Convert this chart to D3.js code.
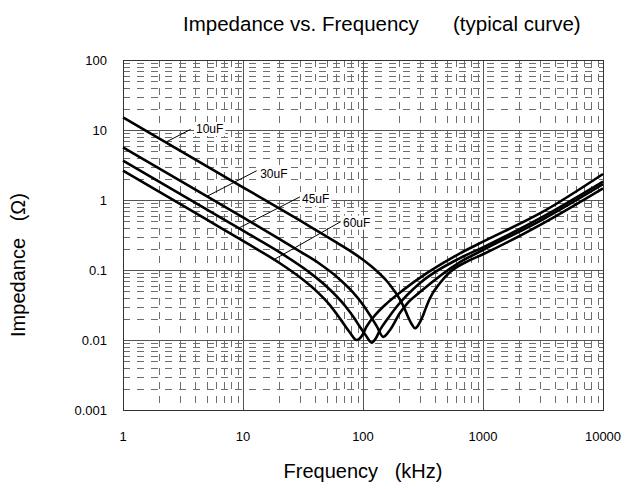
<!DOCTYPE html>
<html>
<head>
<meta charset="utf-8">
<script src="https://cdn.jsdelivr.net/npm/d3@7"></script>
<style>
  html, body { margin: 0; padding: 0; background: #fff; }
  svg { display: block; font-family: "Liberation Sans", Arial, sans-serif; }
</style>
</head>
<body>
<svg id="chart" width="627" height="489"></svg>
<script>
// axis ticks
const freqTicks = [1, 10, 100, 1000, 10000];
const freqTickLabels = ["1", "10", "100", "1000", "10000"];
const impTicks = [0.001, 0.01, 0.1, 1, 10, 100];
const impTickLabels = ["0.001", "0.01", "0.1", "1", "10", "100"];

// curves (kHz, ohm)
const seriesNames = ["10uF", "30uF", "45uF", "60uF"];
const freq10uF = [1, 10, 30, 60, 100, 130, 158.5, 180, 203, 222, 237, 255, 271, 290, 310, 335, 362, 438, 531, 721, 1000, 3162, 10000];
const imp10uF = [15.2, 1.52, 0.506, 0.248, 0.14, 0.097, 0.069, 0.052, 0.038, 0.028, 0.0215, 0.0168, 0.0147, 0.0165, 0.0206, 0.029, 0.0398, 0.0652, 0.0937, 0.130, 0.168, 0.465, 1.47];
const freq30uF = [1, 10, 30, 43.8, 60, 82.5, 100, 114.4, 130, 147.5, 167.9, 203, 240, 298.5, 643, 1000, 3162, 10000];
const imp30uF = [5.66, 0.566, 0.183, 0.122, 0.081, 0.0479, 0.032, 0.0226, 0.0158, 0.0111, 0.0139, 0.0243, 0.035, 0.0485, 0.130, 0.193, 0.53, 1.68];
const freq45uF = [1, 10, 20.3, 35, 50, 70.8, 85, 94.4, 105, 118.2, 128, 138.6, 160, 190.8, 298.5, 643, 1000, 3162, 10000];
const imp45uF = [3.64, 0.364, 0.178, 0.095, 0.0577, 0.0309, 0.0203, 0.0153, 0.0118, 0.00915, 0.0106, 0.0139, 0.02, 0.0299, 0.0652, 0.148, 0.211, 0.577, 1.83];
const freq60uF = [1, 5, 11.4, 20, 30, 42, 53, 65, 78, 88.6, 98, 107, 130, 158, 217, 340, 643, 1000, 3162, 10000];
const imp60uF = [2.62, 0.524, 0.228, 0.127, 0.078, 0.0479, 0.0315, 0.0197, 0.0127, 0.0100, 0.0115, 0.0155, 0.024, 0.0334, 0.052, 0.090, 0.173, 0.254, 0.68, 2.35];

// label anchors and leader ends (kHz, ohm)
const labelFreq = [4.06, 13.9, 31, 68.1];
const labelImp = [9.06, 2.06, 0.906, 0.416];
const leaderFromFreq = [3.66, 13.0, 29.9, 65.2];
const leaderFromImp = [10.2, 2.62, 1.11, 0.49];
const leaderToFreq = [2.31, 4.92, 9.14, 17.9];
const leaderToImp = [6.8, 1.11, 0.394, 0.139];

(function drawImpedanceChart() {
  const svg = d3.select("#chart");
  const width = 627, height = 489;

  const margin = { top: 60, right: 24, bottom: 79, left: 123 };
  const x = d3.scaleLog()
    .domain([1, 10000])
    .range([margin.left, width - margin.right]);
  const y = d3.scaleLog()
    .domain([0.001, 100])
    .range([height - margin.bottom, margin.top]);

  const [x0, x1] = x.range();
  const [y0, y1] = y.range();

  const grid = svg.append("g").attr("class", "grid");

  // minor grid, dashed
  const minorF = [];
  freqTicks.slice(0, -1).forEach(d => {
    for (let k = 2; k <= 9; k++) minorF.push(d * k);
  });
  const minorZ = [];
  impTicks.slice(0, -1).forEach(d => {
    for (let k = 2; k <= 9; k++) minorZ.push(d * k);
  });

  grid.selectAll(".minor-v")
    .data(minorF)
    .enter()
    .append("line")
    .attr("x1", d => Math.round(x(d)) + 0.5)
    .attr("x2", d => Math.round(x(d)) + 0.5)
    .attr("y1", y1)
    .attr("y2", y0)
    .attr("stroke", "#6e6e6e")
    .attr("stroke-width", 1)
    .attr("stroke-dasharray", "7,7");

  grid.selectAll(".minor-h")
    .data(minorZ)
    .enter()
    .append("line")
    .attr("x1", x0)
    .attr("x2", x1)
    .attr("y1", d => Math.round(y(d)) + 0.5)
    .attr("y2", d => Math.round(y(d)) + 0.5)
    .attr("stroke", "#6e6e6e")
    .attr("stroke-width", 1)
    .attr("stroke-dasharray", "7,7");

  // major grid
  grid.selectAll(".major-v")
    .data(freqTicks.slice(1, -1))
    .enter()
    .append("line")
    .attr("x1", d => Math.round(x(d)) + 0.5)
    .attr("x2", d => Math.round(x(d)) + 0.5)
    .attr("y1", y1)
    .attr("y2", y0)
    .attr("stroke", "#555")
    .attr("stroke-width", 1);

  grid.selectAll(".major-h")
    .data(impTicks.slice(1, -1))
    .enter()
    .append("line")
    .attr("x1", x0)
    .attr("x2", x1)
    .attr("y1", d => Math.round(y(d)) + 0.5)
    .attr("y2", d => Math.round(y(d)) + 0.5)
    .attr("stroke", "#555")
    .attr("stroke-width", 1);

  svg.append("rect")
    .attr("x", x0 + 0.5)
    .attr("y", y1 + 0.5)
    .attr("width", x1 - x0)
    .attr("height", y0 - y1)
    .attr("fill", "none")
    .attr("stroke", "#333")
    .attr("stroke-width", 1);

  // tick labels
  svg.append("g")
    .selectAll("text")
    .data(impTicks)
    .enter()
    .append("text")
    .attr("x", x0 - 16)
    .attr("y", d => y(d))
    .attr("dy", "0.35em")
    .attr("text-anchor", "end")
    .attr("font-size", "13px")
    .attr("fill", "#000")
    .text((d, i) => impTickLabels[i]);

  svg.append("g")
    .selectAll("text")
    .data(freqTicks)
    .enter()
    .append("text")
    .attr("x", d => x(d))
    .attr("y", y0 + 31)
    .attr("text-anchor", "middle")
    .attr("font-size", "13px")
    .attr("fill", "#000")
    .text((d, i) => freqTickLabels[i]);

  // curves
  const series = [
    { name: seriesNames[0], f: freq10uF, z: imp10uF },
    { name: seriesNames[1], f: freq30uF, z: imp30uF },
    { name: seriesNames[2], f: freq45uF, z: imp45uF },
    { name: seriesNames[3], f: freq60uF, z: imp60uF }
  ];

  const line = d3.line()
    .x(d => x(d[0]))
    .y(d => y(d[1]))
    .curve(d3.curveMonotoneX);

  svg.append("g")
    .selectAll("path")
    .data(series)
    .enter()
    .append("path")
    .attr("d", s => line(s.f.map((f, i) => [f, s.z[i]])))
    .attr("fill", "none")
    .attr("stroke", "#000")
    .attr("stroke-width", 2.6)
    .attr("stroke-linejoin", "round");

  // labels with leader lines
  const labels = svg.append("g");
  seriesNames.forEach((name, i) => {
    labels.append("line")
      .attr("x1", x(leaderFromFreq[i]))
      .attr("y1", y(leaderFromImp[i]))
      .attr("x2", x(leaderToFreq[i]))
      .attr("y2", y(leaderToImp[i]))
      .attr("stroke", "#000")
      .attr("stroke-width", 1);

    const t = labels.append("text")
      .attr("x", x(labelFreq[i]))
      .attr("y", y(labelImp[i]))
      .attr("font-size", "12px")
      .attr("fill", "#000")
      .text(name);

    const bb = t.node().getBBox();
    labels.insert("rect", function() { return t.node(); })
      .attr("x", bb.x - 2)
      .attr("y", bb.y)
      .attr("width", bb.width + 4)
      .attr("height", bb.height)
      .attr("fill", "#fff");
  });

  // titles
  svg.append("text")
    .attr("x", 183)
    .attr("y", 31)
    .attr("font-size", "20.5px")
    .attr("fill", "#000")
    .style("white-space", "pre")
    .text("Impedance vs. Frequency      (typical curve)");

  svg.append("text")
    .attr("x", (x0 + x1) / 2)
    .attr("y", 478)
    .attr("text-anchor", "middle")
    .attr("font-size", "20px")
    .attr("fill", "#000")
    .style("white-space", "pre")
    .text("Frequency   (kHz)");

  svg.append("text")
    .attr("transform", "translate(25,265) rotate(-90)")
    .attr("text-anchor", "middle")
    .attr("font-size", "20px")
    .attr("fill", "#000")
    .style("white-space", "pre")
    .text("Impedance   (\u03A9)");
})();
</script>
</body>
</html>
